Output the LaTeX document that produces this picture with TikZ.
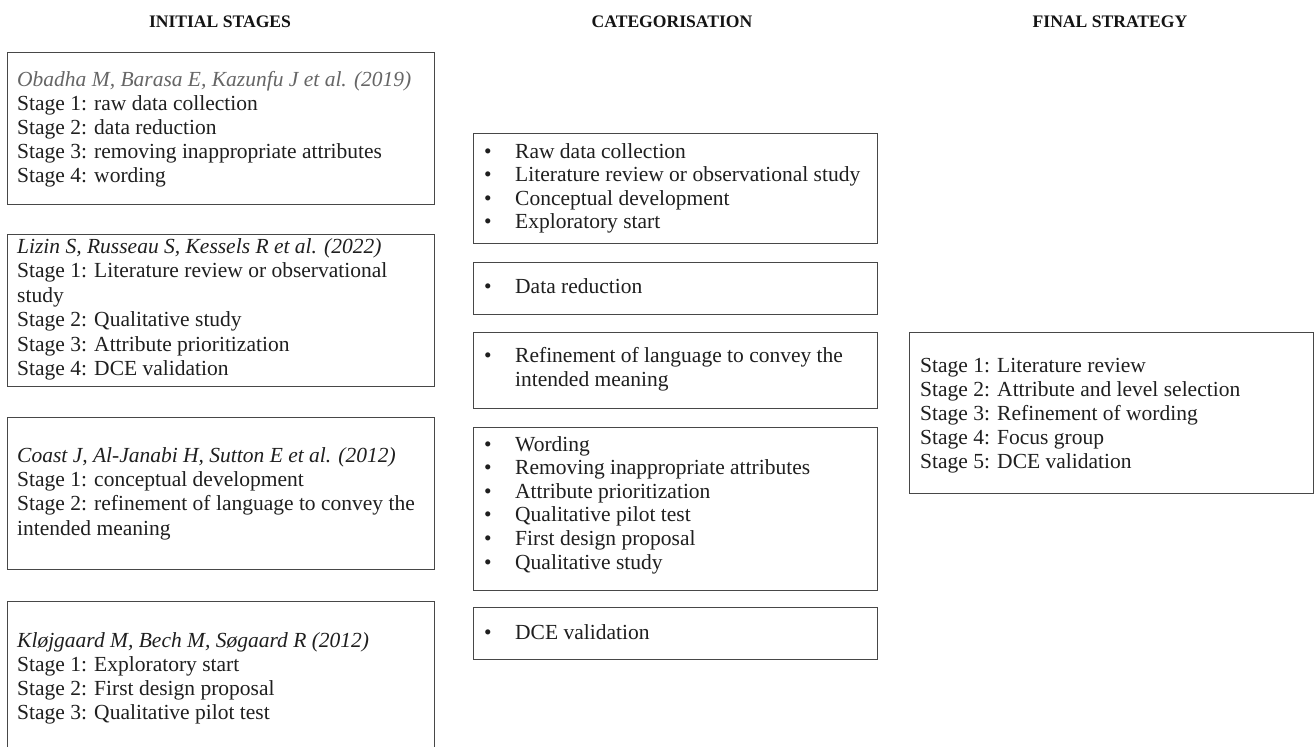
\documentclass[tikz,border=0pt]{standalone}
\usepackage{fontspec}
\setmainfont{Liberation Serif}
\begin{document}
\begin{tikzpicture}[x=1pt,y=-1pt,
  box/.style={draw=black!72, line width=1.2pt, rectangle, inner sep=0pt, anchor=north west},
  txt/.style={anchor=base west, inner sep=0pt, text=black!88, font=\fontsize{21.5}{24}\selectfont},
  ref/.style={txt, font=\fontsize{21.5}{24}\selectfont\itshape},
  bul/.style={anchor=base, inner sep=0pt, text=black!88, font=\fontsize{21.5}{24}\selectfont},
  head/.style={anchor=base, inner sep=0pt, text=black!92, font=\fontsize{17.6}{20}\selectfont\bfseries}]
\useasboundingbox (0,0) rectangle (1315,747);
\clip (0,0) rectangle (1315,747);
\fill[white] (0,0) rectangle (1315,747);

% headers
\node[head] (h1) at (220,27) {INITIAL STAGES};
\node[head] (h2) at (672,27) {CATEGORISATION};
\node[head] (h3) at (1110,27) {FINAL STRATEGY};

% left column boxes
\node[box, minimum width=427pt, minimum height=152pt] (b1) at (7,52) {};
\node[box, minimum width=427pt, minimum height=152pt] (b2) at (7,234) {};
\node[box, minimum width=427pt, minimum height=152pt] (b3) at (7,417) {};
\node[box, minimum width=427pt, minimum height=170pt] (b4) at (7,601) {};

\node[ref, text=black!60] (b1t0) at (17,86) {Obadha M, Barasa E, Kazunfu J et al. (2019)};
\node[txt] (b1t1) at (17,110) {Stage 1: raw data collection};
\node[txt] (b1t2) at (17,134) {Stage 2: data reduction};
\node[txt] (b1t3) at (17,158) {Stage 3: removing inappropriate attributes};
\node[txt] (b1t4) at (17,182) {Stage 4: wording};

\node[ref] (b2t0) at (17,253) {Lizin S, Russeau S, Kessels R et al. (2022)};
\node[txt] (b2t1) at (17,277.5) {Stage 1: Literature review or observational};
\node[txt] (b2t2) at (17,302) {study};
\node[txt] (b2t3) at (17,326.5) {Stage 2: Qualitative study};
\node[txt] (b2t4) at (17,351) {Stage 3: Attribute prioritization};
\node[txt] (b2t5) at (17,375.5) {Stage 4: DCE validation};

\node[ref] (b3t0) at (17,462) {Coast J, Al-Janabi H, Sutton E et al. (2012)};
\node[txt] (b3t1) at (17,486) {Stage 1: conceptual development};
\node[txt] (b3t2) at (17,510.5) {Stage 2: refinement of language to convey the};
\node[txt] (b3t3) at (17,535) {intended meaning};

\node[ref] (b4t0) at (17,647) {Kløjgaard M, Bech M, Søgaard R (2012)};
\node[txt] (b4t1) at (17,671) {Stage 1: Exploratory start};
\node[txt] (b4t2) at (17,695) {Stage 2: First design proposal};
\node[txt] (b4t3) at (17,719) {Stage 3: Qualitative pilot test};

% middle column boxes
\node[box, minimum width=404pt, minimum height=110pt] (c1) at (473,133) {};
\node[box, minimum width=404pt, minimum height=52pt] (c2) at (473,262) {};
\node[box, minimum width=404pt, minimum height=76pt] (c3) at (473,332) {};
\node[box, minimum width=404pt, minimum height=163pt] (c4) at (473,427) {};
\node[box, minimum width=404pt, minimum height=52pt] (c5) at (473,607) {};

\node[bul] (c1b1) at (488,158) {\textbullet};
\node[txt] (c1t1) at (515,158) {Raw data collection};
\node[bul] (c1b2) at (488,181.5) {\textbullet};
\node[txt] (c1t2) at (515,181.5) {Literature review or observational study};
\node[bul] (c1b3) at (488,205) {\textbullet};
\node[txt] (c1t3) at (515,205) {Conceptual development};
\node[bul] (c1b4) at (488,228.5) {\textbullet};
\node[txt] (c1t4) at (515,228.5) {Exploratory start};

\node[bul] (c2b1) at (488,293) {\textbullet};
\node[txt] (c2t1) at (515,293) {Data reduction};

\node[bul] (c3b1) at (488,362) {\textbullet};
\node[txt] (c3t1) at (515,362) {Refinement of language to convey the};
\node[txt] (c3t2) at (515,386) {intended meaning};

\node[bul] (c4b1) at (488,451) {\textbullet};
\node[txt] (c4t1) at (515,451) {Wording};
\node[bul] (c4b2) at (488,474.6) {\textbullet};
\node[txt] (c4t2) at (515,474.6) {Removing inappropriate attributes};
\node[bul] (c4b3) at (488,498.2) {\textbullet};
\node[txt] (c4t3) at (515,498.2) {Attribute prioritization};
\node[bul] (c4b4) at (488,521.8) {\textbullet};
\node[txt] (c4t4) at (515,521.8) {Qualitative pilot test};
\node[bul] (c4b5) at (488,545.4) {\textbullet};
\node[txt] (c4t5) at (515,545.4) {First design proposal};
\node[bul] (c4b6) at (488,569) {\textbullet};
\node[txt] (c4t6) at (515,569) {Qualitative study};

\node[bul] (c5b1) at (488,639) {\textbullet};
\node[txt] (c5t1) at (515,639) {DCE validation};

% right column box
\node[box, minimum width=404pt, minimum height=161pt] (f1) at (909,332) {};
\node[txt] (f1t1) at (920,372) {Stage 1: Literature review};
\node[txt] (f1t2) at (920,396) {Stage 2: Attribute and level selection};
\node[txt] (f1t3) at (920,420) {Stage 3: Refinement of wording};
\node[txt] (f1t4) at (920,444) {Stage 4: Focus group};
\node[txt] (f1t5) at (920,468) {Stage 5: DCE validation};
\end{tikzpicture}
\end{document}
